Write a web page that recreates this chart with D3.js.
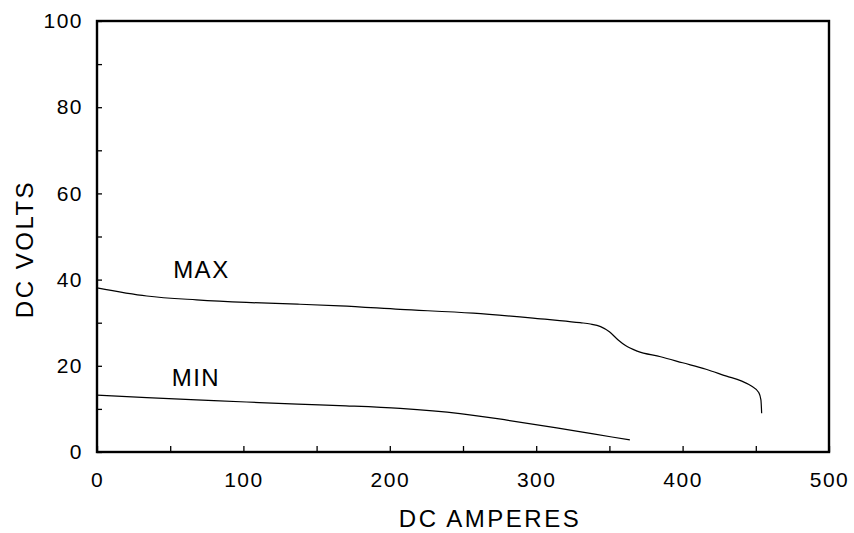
<!DOCTYPE html>
<html>
<head>
  <meta charset="utf-8" />
  <script src="https://d3js.org/d3.v7.min.js"></script>
  <style>
    body { margin: 0; background: #fff; }
    svg text { font-family: "Liberation Sans", Arial, Helvetica, sans-serif; fill: #000; }
  </style>
</head>
<body>
  <div id="chart"></div>
  <script>
    // values (DC amperes, DC volts)
    const maxAmps = [0, 34, 68, 102, 137, 166, 207, 257, 303, 316, 330, 337, 344, 350, 356, 361, 369, 385, 400, 416, 430, 440, 447, 452, 453.5, 454];
    const maxVolts = [38.1, 36.2, 35.3, 34.7, 34.3, 33.9, 33.1, 32.2, 30.9, 30.5, 30.0, 29.7, 29.1, 27.9, 26.0, 24.7, 23.4, 22.1, 20.7, 19.2, 17.6, 16.5, 15.3, 13.8, 12.1, 9.0];
    const minAmps = [0, 34, 68, 102, 137, 170, 207, 248, 280, 314, 339, 364];
    const minVolts = [13.2, 12.6, 12.1, 11.6, 11.1, 10.7, 10.1, 8.9, 7.4, 5.6, 4.2, 2.8];

    const xTicks = [0, 50, 100, 150, 200, 250, 300, 350, 400, 450, 500];
    const yTicks = [0, 10, 20, 30, 40, 50, 60, 70, 80, 90, 100];

    const curveLabels = [
      { text: "MAX", amps: 52, volts: 40.3 },
      { text: "MIN", amps: 51, volts: 15.2 }
    ];

    const width = 854, height = 533;
    const margin = { top: 21, right: 25, bottom: 81, left: 97 };
    const w = width - margin.left - margin.right;
    const h = height - margin.top - margin.bottom;

    const svg = d3.select("#chart").append("svg")
      .attr("width", width)
      .attr("height", height);

    const g = svg.append("g")
      .attr("transform", `translate(${margin.left},${margin.top})`);

    const x = d3.scaleLinear().domain([0, 500]).range([0, w]);
    const y = d3.scaleLinear().domain([0, 100]).range([h, 0]);

    // axes, ticks point inward
    const xAxis = g.append("g")
      .attr("transform", `translate(0,${h})`)
      .call(d3.axisBottom(x).tickValues(xTicks).tickSize(-6).tickPadding(20)
        .tickFormat(d => d % 100 === 0 ? d : ""));

    const yAxis = g.append("g")
      .call(d3.axisLeft(y).tickValues(yTicks).tickSize(-5).tickPadding(14)
        .tickFormat(d => d % 20 === 0 ? d : ""));

    [xAxis, yAxis].forEach(a => {
      a.select(".domain").remove();
      a.selectAll(".tick line").attr("stroke", "#000").attr("stroke-width", 1.3);
      a.selectAll("text")
        .style("font-size", "21px")
        .style("letter-spacing", "1.5px");
    });

    // frame
    g.append("rect")
      .attr("x", 0).attr("y", 0)
      .attr("width", w).attr("height", h)
      .attr("fill", "none")
      .attr("stroke", "#000")
      .attr("stroke-width", 2.4);

    const line = d3.line()
      .x(d => x(d[0]))
      .y(d => y(d[1]))
      .curve(d3.curveMonotoneX);

    const series = [
      d3.zip(maxAmps, maxVolts),
      d3.zip(minAmps, minVolts)
    ];

    g.selectAll(".curve")
      .data(series)
      .enter().append("path")
      .attr("class", "curve")
      .attr("d", line)
      .attr("fill", "none")
      .attr("stroke", "#000")
      .attr("stroke-width", 1.2);

    g.selectAll(".curve-label")
      .data(curveLabels)
      .enter().append("text")
      .attr("class", "curve-label")
      .attr("x", d => x(d.amps))
      .attr("y", d => y(d.volts))
      .style("font-size", "24px")
      .style("letter-spacing", "1.5px")
      .text(d => d.text);

    // axis titles
    svg.append("text")
      .attr("x", 490)
      .attr("y", 527)
      .attr("text-anchor", "middle")
      .style("font-size", "24px")
      .style("letter-spacing", "2.5px")
      .text("DC AMPERES");

    svg.append("text")
      .attr("transform", "translate(33,249) rotate(-90)")
      .attr("text-anchor", "middle")
      .style("font-size", "24px")
      .style("letter-spacing", "2.5px")
      .text("DC VOLTS");
  </script>
</body>
</html>
